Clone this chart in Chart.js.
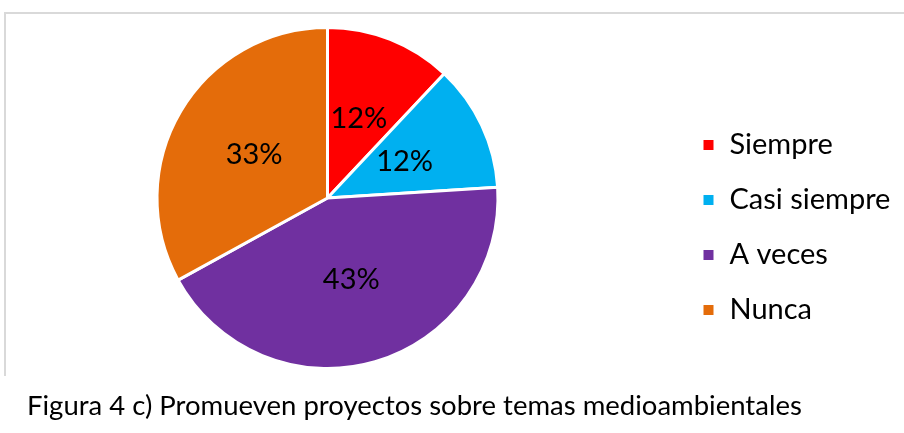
<!DOCTYPE html>
<html>
<head>
<meta charset="utf-8">
<script src="https://cdn.jsdelivr.net/npm/chart.js@4.4.1/dist/chart.umd.min.js"></script>
<style>
  html, body { margin: 0; padding: 0; width: 904px; height: 433px; overflow: hidden; background: #fff; }
  #frame { position: absolute; left: 4px; top: 12px; width: 910px; height: 364px; border-top: 2px solid #d9d9d9; border-left: 2px solid #d9d9d9; box-sizing: border-box; }
  #chart { position: absolute; left: -21px; top: 0; }
  #caption { position: absolute; left: 27px; top: 390px; font-family: Lato, "Open Sans", sans-serif; font-size: 27.5px; line-height: 30px; color: #000; white-space: nowrap; }
</style>
</head>
<body>
<div id="frame"></div>
<canvas id="chart" width="925" height="433"></canvas>
<div id="caption">Figura 4 c) Promueven proyectos sobre temas medioambientales</div>
<script>
const categories = ["Siempre", "Casi siempre", "A veces", "Nunca"];
const percentages = [12, 12, 43, 33];
const sliceColors = ["#FF0000", "#00B0F0", "#7030A0", "#E46C0A"];

const FONT_FAMILY = "Lato, 'Open Sans', sans-serif";
const FONT_SIZE = 29;
const LEG_PAD = 26;
const BOX = 13;
const CANVAS_W = 925;
const CHART_RIGHT = 697; // chart area right edge in canvas coordinates

// measure legend width so the pie ends up where it should
const mctx = document.createElement('canvas').getContext('2d');
mctx.font = FONT_SIZE + 'px ' + FONT_FAMILY;
let maxW = 0;
categories.forEach(c => { maxW = Math.max(maxW, mctx.measureText(c).width); });
const legendW = LEG_PAD + BOX + FONT_SIZE / 2 + maxW + 10;
const padRight = CANVAS_W - CHART_RIGHT - legendW;

const pctLabels = {
  id: 'pctLabels',
  afterDatasetsDraw(chart) {
    const ctx = chart.ctx;
    const meta = chart.getDatasetMeta(0);
    ctx.save();
    ctx.font = FONT_SIZE + 'px ' + FONT_FAMILY;
    ctx.fillStyle = '#000';
    ctx.textAlign = 'center';
    ctx.textBaseline = 'middle';
    meta.data.forEach((arc, i) => {
      const p = arc.getCenterPoint();
      ctx.fillText(chart.data.datasets[0].data[i] + '%', p.x, p.y);
    });
    ctx.restore();
  }
};

new Chart(document.getElementById('chart'), {
  type: 'pie',
  data: {
    labels: categories,
    datasets: [{
      data: percentages,
      backgroundColor: sliceColors,
      borderColor: '#FFFFFF',
      borderWidth: 3
    }]
  },
  options: {
    responsive: false,
    animation: false,
    devicePixelRatio: 1,
    layout: { padding: { left: 0, top: 26, bottom: 63, right: padRight } },
    plugins: {
      tooltip: { enabled: false },
      legend: {
        position: 'right',
        align: 'center',
        title: { display: true, text: ' ', font: { size: 11 }, padding: { top: 23, bottom: 23 } },
        labels: {
          boxWidth: BOX,
          boxHeight: BOX,
          padding: LEG_PAD,
          color: '#000',
          font: { family: FONT_FAMILY, size: FONT_SIZE }
        }
      }
    }
  },
  plugins: [pctLabels]
});
</script>
</body>
</html>
